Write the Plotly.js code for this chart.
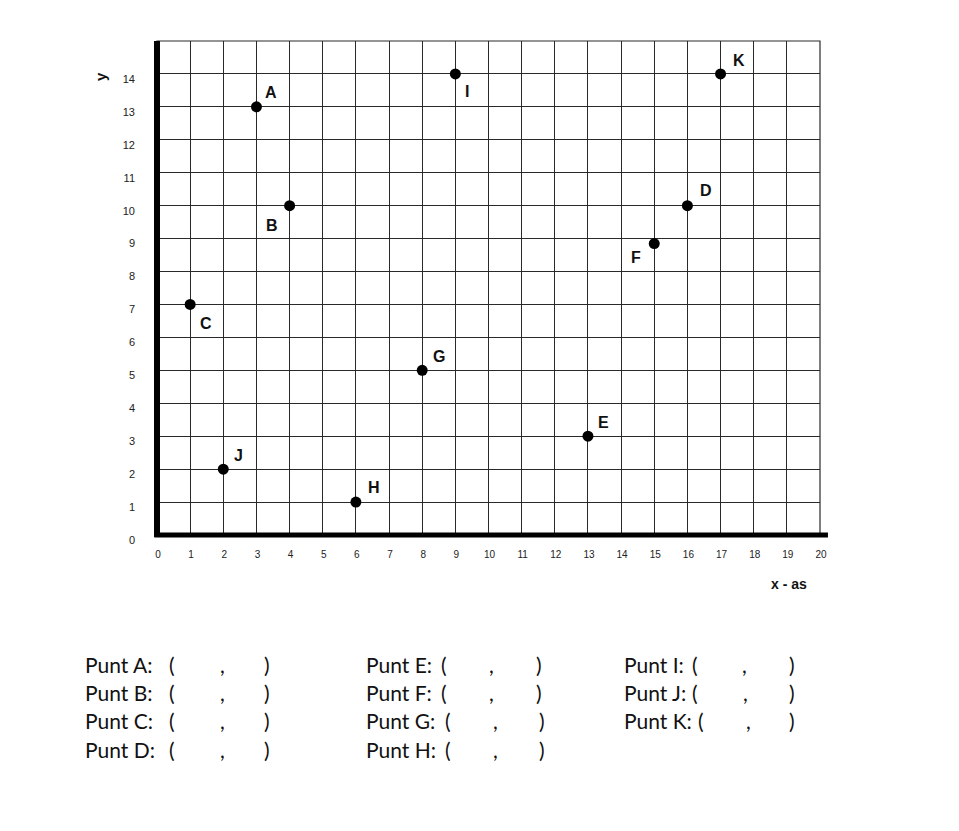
<!DOCTYPE html>
<html>
<head>
<meta charset="utf-8">
<script src="https://cdn.plot.ly/plotly-3.0.1.min.js"></script>
<style>
  html, body { margin: 0; padding: 0; background: #ffffff; }
  #chart { width: 959px; height: 831px; }
</style>
</head>
<body>
<div id="chart"></div>
<script>
// ---- Data ----
var pointNames = ['A', 'B', 'C', 'D', 'E', 'F', 'G', 'H', 'I', 'J', 'K'];
var pointX = [3, 4, 1, 16, 13, 15, 8, 6, 9, 2, 17];
var pointY = [13, 10, 7, 10, 3, 8.85, 5, 1, 14, 2, 14];

var xTickVals = [0,1,2,3,4,5,6,7,8,9,10,11,12,13,14,15,16,17,18,19,20];
var yTickVals = [0,1,2,3,4,5,6,7,8,9,10,11,12,13,14,15];
var yTickText = ['0','1','2','3','4','5','6','7','8','9','10','11','12','13','14',''];

var xAxisTitle = 'x - as';
var yAxisTitle = 'y';

var worksheetCol1 = ['Punt A:', 'Punt B:', 'Punt C:', 'Punt D:'];
var worksheetCol2 = ['Punt E:', 'Punt F:', 'Punt G:', 'Punt H:'];
var worksheetCol3 = ['Punt I:', 'Punt J:', 'Punt K:'];

// ---- Layout helpers (pixel geometry of the page) ----
var M = {l: 157, r: 139, t: 41, b: 296};
var W = 959, H = 831;
var PW = W - M.l - M.r, PH = H - M.t - M.b;
function px(xp) { return (xp - M.l) / PW; }
function py(yp) { return (H - M.b - yp) / PH; }

// label offsets (pixels) relative to each dot: [dx, dy up]
var labelShift = {
  A: [15, 14], B: [-18, -20], C: [16, -19], D: [19, 15], E: [16, 14],
  F: [-18, -14], G: [17, 14], H: [18, 15], I: [12, -18], J: [15, 14], K: [18, 13]
};

var annotations = [];
pointNames.forEach(function (n, i) {
  annotations.push({
    x: pointX[i], y: pointY[i], xref: 'x', yref: 'y',
    text: '<b>' + n + '</b>', showarrow: false,
    xshift: labelShift[n][0], yshift: labelShift[n][1],
    font: {family: 'Liberation Sans, Arial, sans-serif', size: 16, color: '#111'}
  });
});

annotations.push({
  x: px(789), y: py(584), xref: 'paper', yref: 'paper', xanchor: 'center', yanchor: 'middle',
  text: '<b>' + xAxisTitle + '</b>', showarrow: false,
  font: {family: 'Liberation Sans, Arial, sans-serif', size: 14, color: '#111'}
});
annotations.push({
  x: px(100), y: py(77), xref: 'paper', yref: 'paper', xanchor: 'center', yanchor: 'middle',
  text: '<b>' + yAxisTitle + '</b>', showarrow: false, textangle: -90,
  font: {family: 'Liberation Sans, Arial, sans-serif', size: 15, color: '#111'}
});

// worksheet lines
var wsFont = {family: 'Lato, "Open Sans", sans-serif', size: 21, color: '#111'};
var rowsY = [664, 692, 720, 749];
function addRow(label, left, yp, pOpen, pComma, pClose) {
  annotations.push({x: px(left), y: py(yp), xref: 'paper', yref: 'paper', xanchor: 'left', yanchor: 'middle',
    text: label, showarrow: false, font: wsFont});
  annotations.push({x: px(pOpen), y: py(yp), xref: 'paper', yref: 'paper', xanchor: 'center', yanchor: 'middle',
    text: '(', showarrow: false, font: wsFont});
  annotations.push({x: px(pComma), y: py(yp), xref: 'paper', yref: 'paper', xanchor: 'center', yanchor: 'middle',
    text: ',', showarrow: false, font: wsFont});
  annotations.push({x: px(pClose), y: py(yp), xref: 'paper', yref: 'paper', xanchor: 'center', yanchor: 'middle',
    text: ')', showarrow: false, font: wsFont});
}
var col1Pos = [[172, 222, 267], [172, 222, 267], [172, 222, 267], [172, 222, 267]];
var col2Pos = [[444, 491, 539], [444, 491, 539], [448, 495, 542], [448, 495, 542]];
var col3Pos = [[695, 744, 792], [695, 745, 792], [701, 748, 792]];
worksheetCol1.forEach(function (t, i) { addRow(t, 83, rowsY[i], col1Pos[i][0], col1Pos[i][1], col1Pos[i][2]); });
worksheetCol2.forEach(function (t, i) { addRow(t, 364, rowsY[i], col2Pos[i][0], col2Pos[i][1], col2Pos[i][2]); });
worksheetCol3.forEach(function (t, i) { addRow(t, 622, rowsY[i], col3Pos[i][0], col3Pos[i][1], col3Pos[i][2]); });

var trace = {
  x: pointX, y: pointY, text: pointNames,
  type: 'scatter', mode: 'markers',
  marker: {color: '#000', size: 11},
  hoverinfo: 'text+x+y', showlegend: false, cliponaxis: false
};

var layout = {
  width: W, height: H,
  margin: M,
  paper_bgcolor: '#ffffff', plot_bgcolor: '#ffffff',
  showlegend: false,
  xaxis: {
    range: [0, 20], tickmode: 'array', tickvals: xTickVals,
    showgrid: true, gridcolor: '#2a2a2a', gridwidth: 1,
    zeroline: false, showline: false, ticks: '',
    ticklabelstandoff: 12, ticklabelshift: 1,
    tickfont: {family: 'Liberation Sans, Arial, sans-serif', size: 10, color: '#222'},
    fixedrange: true
  },
  yaxis: {
    range: [0, 15], tickmode: 'array', tickvals: yTickVals, ticktext: yTickText,
    showgrid: true, gridcolor: '#2a2a2a', gridwidth: 1,
    zeroline: false, showline: false, ticks: '',
    ticklabelstandoff: 21, ticklabelshift: 5,
    tickfont: {family: 'Liberation Sans, Arial, sans-serif', size: 11, color: '#222'},
    fixedrange: true
  },
  shapes: [
    {type: 'rect', xref: 'paper', yref: 'paper', x0: 0, x1: 1, y0: 0, y1: 1,
     line: {color: '#2a2a2a', width: 1.2}, layer: 'below'},
    {type: 'line', xref: 'paper', yref: 'paper', x0: 0, x1: 0, y0: -0.004, y1: 1.0,
     line: {color: '#000', width: 6}},
    {type: 'line', xref: 'paper', yref: 'paper', x0: -0.004, x1: 1.012, y0: 0, y1: 0,
     line: {color: '#000', width: 5}}
  ],
  annotations: annotations
};

Plotly.newPlot('chart', [trace], layout, {displayModeBar: false, staticPlot: true});
</script>
</body>
</html>
